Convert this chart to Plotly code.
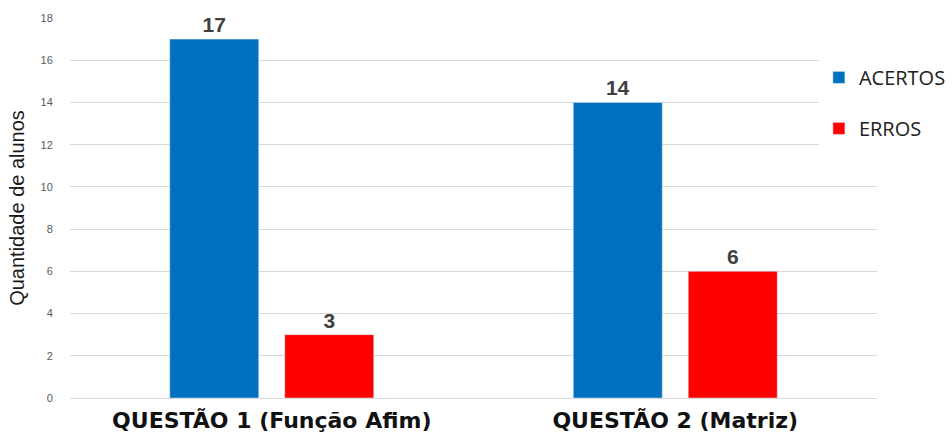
import plotly.graph_objects as go

categories = ["QUESTÃO 1 (Função Afim)", "QUESTÃO 2 (Matriz)"]
acertos = [17, 14]
erros = [3, 6]
y_ticks = [0, 2, 4, 6, 8, 10, 12, 14, 16, 18]

fig = go.Figure()
fig.add_trace(go.Bar(
    x=categories, y=acertos, name="ACERTOS", marker_color="#0070C0",
    text=acertos, textposition="outside", legendgroup="a",
    textfont=dict(family="Liberation Sans, Arial", size=21, color="#404040", weight="bold"),
    cliponaxis=False,
))
fig.add_trace(go.Bar(
    x=categories, y=erros, name="ERROS", marker_color="#FF0000",
    text=erros, textposition="outside", legendgroup="b",
    textfont=dict(family="Liberation Sans, Arial", size=21, color="#404040", weight="bold"),
    cliponaxis=False,
))

fig.update_layout(
    width=952, height=432,
    margin=dict(l=70, r=75, t=18, b=34, autoexpand=False),
    plot_bgcolor="white", paper_bgcolor="white",
    barmode="group", bargap=0.43, bargroupgap=0.226,
    showlegend=True,
    legend=dict(x=0.928, y=0.895, xanchor="left", yanchor="top",
                font=dict(family="Open Sans, Liberation Sans", size=20, color="#202020"),
                tracegroupgap=22, traceorder="grouped", itemwidth=30),
    font=dict(family="Liberation Sans, Arial"),
)
fig.update_yaxes(
    range=[0, 18], tickvals=y_ticks, showgrid=True, gridcolor="#D9D9D9", gridwidth=1,
    zeroline=False, showline=False, automargin=False,
    ticks="outside", tickcolor="rgba(0,0,0,0)", ticklen=14,
    tickfont=dict(family="Liberation Sans, Arial", size=11, color="#595959"),
    title=dict(text="Quantidade de alunos", font=dict(family="Liberation Sans, Arial", size=20, color="#1a1a1a"), standoff=10),
)
fig.update_xaxes(
    showline=True, linecolor="#D9D9D9", linewidth=1, automargin=False,
    tickfont=dict(family="DejaVu Sans, Liberation Sans", size=22, color="#111111", weight="bold"),
    ticks="outside", tickcolor="rgba(0,0,0,0)", ticklen=3,
)
fig.write_html("out.html")
